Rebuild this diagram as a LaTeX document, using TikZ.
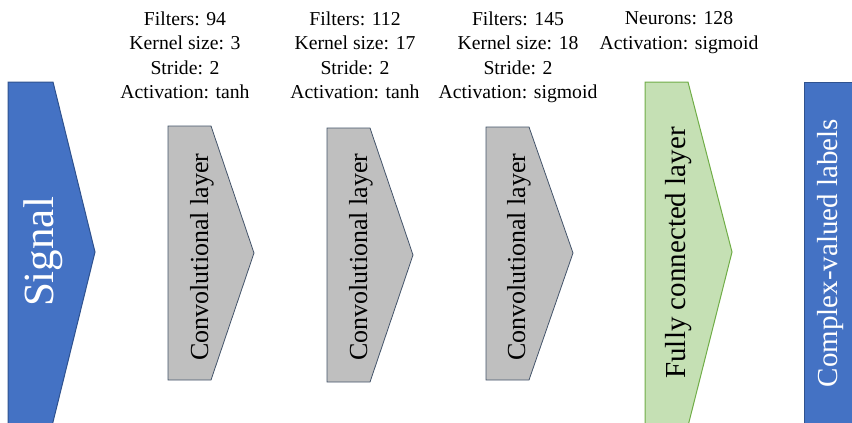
\documentclass[tikz,border=0pt]{standalone}
\usepackage{fontspec}
\setmainfont{Liberation Serif}
\usepackage{xcolor}
\usepackage{tikz}
\usetikzlibrary{positioning}
\definecolor{netblue}{HTML}{4472C4}
\definecolor{netblueedge}{HTML}{2F528F}
\definecolor{netgray}{HTML}{BFBFBF}
\definecolor{netgrayedge}{HTML}{44546A}
\definecolor{netgreen}{HTML}{C5E0B4}
\definecolor{netgreenedge}{HTML}{70AD47}

\begin{document}
\begin{tikzpicture}[
  x=1pt, y=-1pt,
  io/.style={draw=netblueedge, fill=netblue, line width=1pt},
  conv/.style={draw=netgrayedge, fill=netgray, line width=0.8pt},
  dense/.style={draw=netgreenedge, fill=netgreen, line width=1pt},
  vtxt/.style={rotate=90, inner sep=0pt},
  spec/.style={align=center, inner sep=0pt, anchor=north, font=\fontsize{19.7}{24.5}\selectfont}
]
\clip (0,0) rectangle (852,423);

% input and output blocks
\draw[io] (8,82) -- (53,82) -- (95,252) -- (52.5,424) -- (8,424) -- cycle;
\draw[io] (804,82) rectangle (870,424);

% convolutional layers
\draw[conv] (168,126) -- (211,126) -- (254,253) -- (211,380) -- (168,380) -- cycle;
\draw[conv] (327,128) -- (370,128) -- (413,255) -- (370,382) -- (327,382) -- cycle;
\draw[conv] (486,127) -- (529,127) -- (573,253) -- (529,380) -- (486,380) -- cycle;

% fully connected layer
\draw[dense] (645,82) -- (688,82) -- (732,252) -- (688.5,424) -- (645,424) -- cycle;

\node[vtxt, text=white, font=\fontsize{43}{43}\selectfont] (signal) at (43,252) {Signal};
\node[vtxt, font=\fontsize{26}{26}\selectfont] (conv1) at (202,257) {Convolutional layer};
\node[vtxt, font=\fontsize{26}{26}\selectfont] (conv2) at (361,257) {Convolutional layer};
\node[vtxt, font=\fontsize{26}{26}\selectfont] (conv3) at (519,257) {Convolutional layer};
\node[vtxt, font=\fontsize{29}{29}\selectfont] (fc) at (679,253) {Fully connected layer};
\node[vtxt, text=white, font=\fontsize{29}{29}\selectfont] (labels) at (831,253) {Complex-valued labels};

% layer settings
\node[spec] (spec1) at (185,11.5) {Filters: 94\\Kernel size: 3\\Stride: 2\\Activation: tanh};
\node[spec] (spec2) at (355,11.5) {Filters: 112\\Kernel size: 17\\Stride: 2\\Activation: tanh};
\node[spec] (spec3) at (518,11.5) {Filters: 145\\Kernel size: 18\\Stride: 2\\Activation: sigmoid};
\node[spec] (spec4) at (679,11.5) {Neurons: 128\\Activation: sigmoid};
\end{tikzpicture}
\end{document}
